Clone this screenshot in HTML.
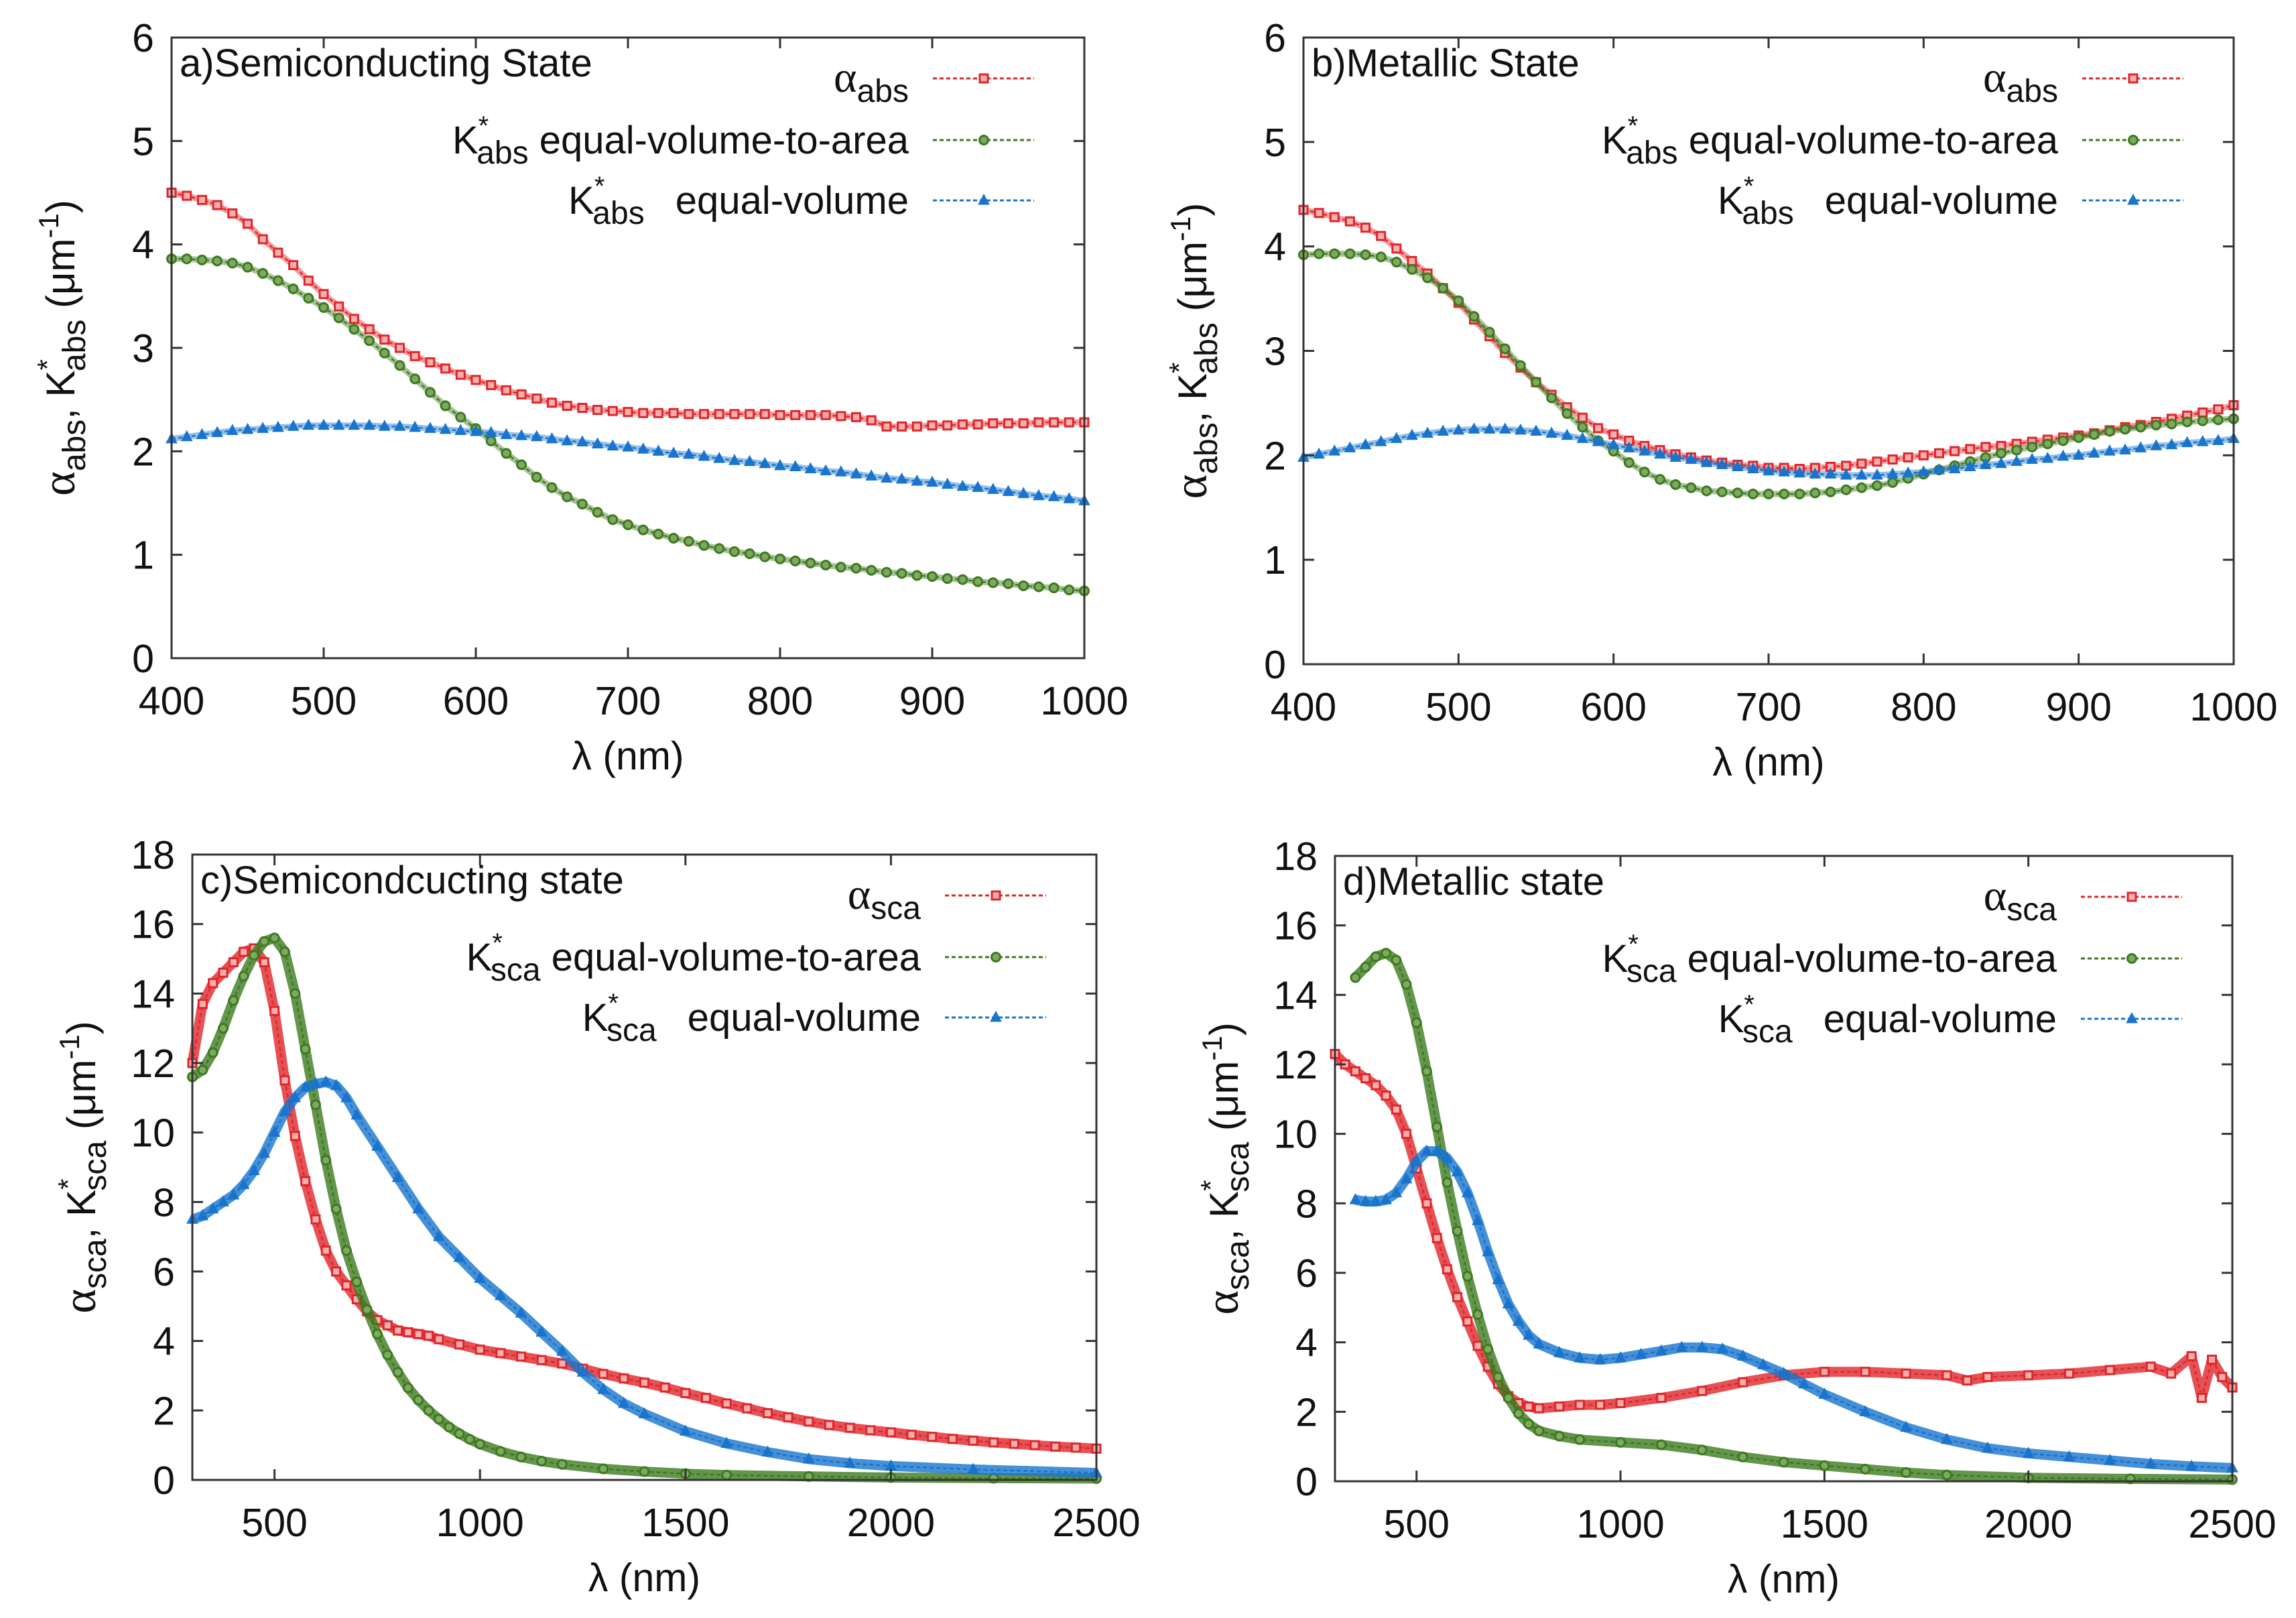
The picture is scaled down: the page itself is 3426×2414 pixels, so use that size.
<!DOCTYPE html>
<html><head><meta charset="utf-8"><style>
html,body{margin:0;padding:0;background:#fff;}
svg{display:block;font-family:"Liberation Sans",sans-serif;}
</style></head><body>
<svg id="fig" width="3426" height="2414" viewBox="0 0 3426 2414" xmlns="http://www.w3.org/2000/svg"></svg>
<script>
// ---- data ----
const absWl = [];
for (let w = 400; w <= 1000; w += 10) absWl.push(w);
const xTicksAbs = [400,500,600,700,800,900,1000];
const yTicksAbs = [0,1,2,3,4,5,6];
const xTicksSca = [500,1000,1500,2000,2500];
const yTicksSca = [0,2,4,6,8,10,12,14,16,18];

const aRed = [4.5,4.47,4.43,4.38,4.3,4.2,4.05,3.92,3.8,3.65,3.52,3.4,3.28,3.18,3.08,3.0,2.92,2.86,2.8,2.74,2.69,2.64,2.59,2.55,2.51,2.47,2.44,2.42,2.4,2.39,2.38,2.37,2.37,2.37,2.36,2.36,2.36,2.36,2.36,2.36,2.35,2.35,2.35,2.35,2.34,2.33,2.3,2.24,2.24,2.24,2.25,2.25,2.26,2.26,2.27,2.27,2.27,2.28,2.28,2.28,2.28];
const aGreen = [3.86,3.86,3.85,3.84,3.82,3.78,3.72,3.65,3.57,3.48,3.39,3.29,3.18,3.07,2.95,2.83,2.7,2.57,2.44,2.33,2.22,2.1,1.98,1.87,1.75,1.65,1.56,1.49,1.41,1.34,1.29,1.24,1.2,1.16,1.13,1.09,1.06,1.03,1.01,0.98,0.96,0.94,0.92,0.9,0.88,0.87,0.85,0.83,0.82,0.8,0.79,0.77,0.76,0.74,0.73,0.72,0.7,0.69,0.68,0.66,0.65];
const aBlue = [2.12,2.14,2.16,2.18,2.2,2.21,2.22,2.23,2.24,2.25,2.25,2.25,2.25,2.25,2.24,2.24,2.23,2.22,2.21,2.2,2.19,2.18,2.16,2.15,2.14,2.12,2.1,2.09,2.07,2.05,2.04,2.02,2.0,1.98,1.97,1.95,1.93,1.91,1.9,1.88,1.86,1.85,1.83,1.81,1.8,1.78,1.76,1.74,1.73,1.71,1.7,1.68,1.66,1.65,1.63,1.61,1.59,1.57,1.56,1.54,1.52];

const bRed = [4.35,4.32,4.28,4.24,4.18,4.1,3.98,3.86,3.74,3.6,3.46,3.3,3.14,2.98,2.84,2.7,2.58,2.46,2.36,2.26,2.2,2.14,2.09,2.05,2.01,1.98,1.95,1.93,1.91,1.9,1.88,1.88,1.87,1.88,1.89,1.9,1.92,1.94,1.96,1.98,2.0,2.02,2.04,2.06,2.08,2.09,2.11,2.13,2.15,2.17,2.19,2.21,2.24,2.27,2.29,2.32,2.35,2.38,2.41,2.44,2.48];
const bGreen = [3.92,3.93,3.93,3.93,3.92,3.9,3.85,3.78,3.7,3.6,3.48,3.33,3.18,3.02,2.86,2.7,2.55,2.4,2.27,2.14,2.04,1.93,1.84,1.77,1.72,1.69,1.66,1.65,1.64,1.63,1.63,1.63,1.63,1.64,1.65,1.67,1.69,1.71,1.74,1.78,1.82,1.86,1.9,1.94,1.98,2.02,2.05,2.08,2.11,2.14,2.17,2.2,2.23,2.25,2.27,2.29,2.3,2.32,2.33,2.34,2.35];
const bBlue = [1.98,2.01,2.04,2.07,2.1,2.13,2.16,2.19,2.21,2.23,2.24,2.25,2.25,2.25,2.24,2.23,2.21,2.19,2.16,2.13,2.1,2.07,2.04,2.01,1.98,1.96,1.93,1.91,1.89,1.87,1.85,1.84,1.83,1.82,1.82,1.81,1.81,1.81,1.82,1.83,1.84,1.86,1.87,1.89,1.91,1.92,1.94,1.96,1.97,1.99,2.0,2.02,2.04,2.05,2.07,2.09,2.1,2.12,2.13,2.14,2.16];

const cRedX = [300,325,350,375,400,425,450,475,500,525,550,575,600,625,650,675,700,725,750,775,800,825,850,875,900,950,1000,1050,1100,1150,1200,1250,1300,1350,1400,1450,1500,1550,1600,1650,1700,1750,1800,1850,1900,1950,2000,2050,2100,2150,2200,2250,2300,2350,2400,2450,2500];
const cRedY = [12.0,13.7,14.3,14.6,14.9,15.2,15.3,14.9,13.5,11.5,9.9,8.6,7.5,6.6,6.0,5.6,5.2,4.85,4.6,4.45,4.3,4.25,4.2,4.15,4.05,3.9,3.75,3.65,3.55,3.45,3.35,3.2,3.05,2.92,2.8,2.66,2.5,2.36,2.2,2.06,1.92,1.8,1.68,1.58,1.5,1.43,1.37,1.3,1.24,1.18,1.13,1.08,1.04,1.0,0.96,0.93,0.9];
const cGreenX = [300,325,350,375,400,425,450,475,500,525,550,575,600,625,650,675,700,725,750,775,800,825,850,875,900,925,950,975,1000,1050,1100,1150,1200,1300,1400,1500,1600,1800,2000,2250,2500];
const cGreenY = [11.6,11.8,12.3,13.0,13.8,14.5,15.1,15.5,15.6,15.2,14.0,12.4,10.8,9.2,7.8,6.6,5.7,4.9,4.2,3.6,3.1,2.65,2.3,2.0,1.75,1.52,1.33,1.17,1.03,0.82,0.66,0.54,0.45,0.32,0.24,0.18,0.14,0.1,0.07,0.05,0.04];
const cBlueX = [300,325,350,375,400,425,450,475,500,525,550,575,600,625,650,675,700,750,800,850,900,950,1000,1050,1100,1150,1200,1250,1300,1350,1400,1500,1600,1700,1800,1900,2000,2200,2500];
const cBlueY = [7.5,7.6,7.8,8.0,8.2,8.5,8.9,9.4,10.0,10.6,11.0,11.3,11.4,11.45,11.35,11.0,10.5,9.6,8.7,7.8,7.0,6.4,5.8,5.3,4.8,4.25,3.7,3.1,2.6,2.2,1.9,1.4,1.05,0.8,0.6,0.48,0.4,0.3,0.2];

const dRedX = [300,325,350,375,400,425,450,475,500,525,550,575,600,625,650,675,700,725,750,775,800,850,900,950,1000,1100,1200,1300,1400,1500,1600,1700,1800,1850,1900,2000,2100,2200,2300,2350,2400,2425,2450,2475,2500];
const dRedY = [12.3,12.0,11.8,11.6,11.4,11.1,10.7,10.0,9.0,8.0,7.0,6.1,5.3,4.6,3.9,3.3,2.8,2.45,2.25,2.15,2.1,2.15,2.2,2.2,2.25,2.4,2.6,2.85,3.05,3.15,3.15,3.1,3.05,2.9,3.0,3.05,3.1,3.2,3.3,3.1,3.6,2.4,3.5,3.0,2.7];
const dGreenX = [350,375,400,425,450,475,500,525,550,575,600,625,650,675,700,725,750,775,800,850,900,1000,1100,1200,1300,1400,1500,1600,1700,1800,2000,2250,2500];
const dGreenY = [14.5,14.8,15.1,15.2,15.0,14.3,13.2,11.8,10.2,8.6,7.2,5.9,4.8,3.8,3.0,2.4,1.95,1.65,1.45,1.3,1.2,1.12,1.05,0.9,0.7,0.55,0.45,0.35,0.25,0.18,0.1,0.07,0.05];
const dBlueX = [350,375,400,425,450,475,500,525,550,575,600,625,650,675,700,725,750,775,800,850,900,950,1000,1050,1100,1150,1200,1250,1300,1350,1400,1450,1500,1600,1700,1800,1900,2000,2100,2200,2300,2400,2500];
const dBlueY = [8.1,8.05,8.05,8.1,8.3,8.7,9.2,9.5,9.5,9.3,8.9,8.3,7.5,6.6,5.8,5.1,4.6,4.2,3.95,3.7,3.55,3.5,3.55,3.65,3.75,3.85,3.85,3.8,3.6,3.35,3.1,2.8,2.5,2.0,1.55,1.2,0.95,0.8,0.7,0.6,0.5,0.43,0.38];

// ---- rendering ----
const NS = "http://www.w3.org/2000/svg";
const svg = document.getElementById('fig');
function mk(tag, attrs, parent) {
  const e = document.createElementNS(NS, tag);
  for (const k in attrs) e.setAttribute(k, attrs[k]);
  (parent || svg).appendChild(e);
  return e;
}
const RED = '#e0262a', GREEN = '#3d7a1f', BLUE = '#1874cd';

function marker(g, kind, x, y) {
  let m;
  if (kind === 'sq') m = mk('rect', {x: x-6, y: y-6, width: 12, height: 12, fill: '#f6b0b0', stroke: RED, 'stroke-width': 3}, g);
  else if (kind === 'ci') m = mk('circle', {cx: x, cy: y, r: 6.5, fill: '#7fa860', stroke: GREEN, 'stroke-width': 3}, g);
  else m = mk('polygon', {points: `${x},${y-9} ${x-8},${y+6} ${x+8},${y+6}`, fill: BLUE, stroke: BLUE, 'stroke-width': 1}, g);
  return m;
}

function panel(cfg) {
  const g = mk('g', {});
  
  
  const {L, R, T, B, x0, x1, y0, y1} = cfg;
  const sx = v => L + (v - x0) / (x1 - x0) * (R - L);
  const sy = v => B - (v - y0) / (y1 - y0) * (B - T);
  cfg.series.forEach(s => {
    const sg = mk('g', {}, g);
    
    
    const pts = s.x.map((xv, i) => sx(xv).toFixed(1) + ',' + sy(s.y[i]).toFixed(1)).join(' ');
    const band = mk('polyline', {points: pts, fill: 'none', stroke: s.color, 'stroke-width': cfg.band, 'stroke-opacity': cfg.bandOp, 'stroke-linejoin': 'round'}, sg);
    
    
    const ln = mk('polyline', {points: pts, fill: 'none', stroke: s.color, 'stroke-width': 2.5, 'stroke-dasharray': '6,4'}, sg);
    
    
    s.x.forEach((xv, i) => {
      const m = marker(sg, s.kind, sx(xv), sy(s.y[i]));
      
      
    });
  });
  const fr = mk('rect', {x: L, y: T, width: R - L, height: B - T, fill: 'none', stroke: '#333', 'stroke-width': 3}, g);
  
  
  cfg.xt.forEach(v => {
    const X = sx(v);
    mk('line', {x1: X, y1: B, x2: X, y2: B - 16, stroke: '#333', 'stroke-width': 3}, g);
    mk('line', {x1: X, y1: T, x2: X, y2: T + 16, stroke: '#333', 'stroke-width': 3}, g);
    const t = mk('text', {x: X, y: B + 84, 'text-anchor': 'middle', 'font-size': 59, fill: '#111'}, g);
    t.textContent = v;
    
    
  });
  cfg.yt.forEach(v => {
    const Y = sy(v);
    mk('line', {x1: L, y1: Y, x2: L + 16, y2: Y, stroke: '#333', 'stroke-width': 3}, g);
    mk('line', {x1: R, y1: Y, x2: R - 16, y2: Y, stroke: '#333', 'stroke-width': 3}, g);
    const t = mk('text', {x: L - 26, y: Y + 21, 'text-anchor': 'end', 'font-size': 59, fill: '#111'}, g);
    t.textContent = v;
    
    
  });
  const tt = mk('text', {x: L + 12, y: T + 58, 'font-size': 58, fill: '#111'}, g);
  tt.textContent = cfg.title;
  
  
  const xl = mk('text', {x: (L + R) / 2, y: B + 166, 'text-anchor': 'middle', 'font-size': 59, fill: '#111'}, g);
  xl.textContent = 'λ (nm)';
  
  
  const yl = mk('text', {transform: `translate(${L - 145},${(T + B) / 2}) rotate(-90)`, 'text-anchor': 'middle', 'font-size': 60, fill: '#111', 'xml:space': 'preserve'}, g);
  
  
  yl.innerHTML = `<tspan font-family="Liberation Serif" font-size="70">α</tspan><tspan font-size="48" dy="16">${cfg.sub}</tspan><tspan dy="-16">, K</tspan><tspan font-size="42" dy="-26">*</tspan><tspan font-size="48" dx="-18" dy="42">${cfg.sub}</tspan><tspan dy="-16">  (μm</tspan><tspan font-size="42" dy="-24">-1</tspan><tspan dy="24">)</tspan>`;
  const rows = [
    `<tspan font-family="Liberation Serif" font-size="66">α</tspan><tspan font-size="48" dy="15">${cfg.sub}</tspan>`,
    `K<tspan font-size="40" dy="-28">*</tspan><tspan font-size="48" dx="-18" dy="43">${cfg.sub}</tspan><tspan dy="-15"> equal-volume-to-area</tspan>`,
    `K<tspan font-size="40" dy="-28">*</tspan><tspan font-size="48" dx="-18" dy="43">${cfg.sub}</tspan><tspan dy="-15" dx="30"> equal-volume</tspan>`
  ];
  const offs = [61, 153, 243];
  cfg.series.forEach((s, i) => {
    const lg = mk('g', {}, g);
    
    
    const Y = T + offs[i];
    const t = mk('text', {x: R - 262, y: Y + 20, 'text-anchor': 'end', 'font-size': 58, fill: '#111', 'xml:space': 'preserve'}, lg);
    t.innerHTML = rows[i];
    mk('line', {x1: R - 226, y1: Y, x2: R - 75, y2: Y, stroke: s.color, 'stroke-width': 3, 'stroke-dasharray': '6,4'}, lg);
    marker(lg, s.kind, R - 150, Y);
  });
}

panel({name: 'panel-a', title: 'a)Semiconducting State', sub: 'abs', band: 9, bandOp: 0.45, L: 256, R: 1618, T: 56, B: 982, x0: 400, x1: 1000, y0: 0, y1: 6, xt: xTicksAbs, yt: yTicksAbs,
  series: [{name: 'alpha-abs-series', x: absWl, y: aRed, color: RED, kind: 'sq'},
           {name: 'k-abs-volume-to-area-series', x: absWl, y: aGreen, color: GREEN, kind: 'ci'},
           {name: 'k-abs-volume-series', x: absWl, y: aBlue, color: BLUE, kind: 'tr'}]});
panel({name: 'panel-b', title: 'b)Metallic State', sub: 'abs', band: 9, bandOp: 0.45, L: 1945, R: 3333, T: 56, B: 991, x0: 400, x1: 1000, y0: 0, y1: 6, xt: xTicksAbs, yt: yTicksAbs,
  series: [{name: 'alpha-abs-series', x: absWl, y: bRed, color: RED, kind: 'sq'},
           {name: 'k-abs-volume-to-area-series', x: absWl, y: bGreen, color: GREEN, kind: 'ci'},
           {name: 'k-abs-volume-series', x: absWl, y: bBlue, color: BLUE, kind: 'tr'}]});
panel({name: 'panel-c', title: 'c)Semicondcucting state', sub: 'sca', band: 15, bandOp: 0.8, L: 287, R: 1636, T: 1275, B: 2208, x0: 300, x1: 2500, y0: 0, y1: 18, xt: xTicksSca, yt: yTicksSca,
  series: [{name: 'alpha-sca-series', x: cRedX, y: cRedY, color: RED, kind: 'sq'},
           {name: 'k-sca-volume-to-area-series', x: cGreenX, y: cGreenY, color: GREEN, kind: 'ci'},
           {name: 'k-sca-volume-series', x: cBlueX, y: cBlueY, color: BLUE, kind: 'tr'}]});
panel({name: 'panel-d', title: 'd)Metallic state', sub: 'sca', band: 15, bandOp: 0.8, L: 1992, R: 3331, T: 1277, B: 2210, x0: 300, x1: 2500, y0: 0, y1: 18, xt: xTicksSca, yt: yTicksSca,
  series: [{name: 'alpha-sca-series', x: dRedX, y: dRedY, color: RED, kind: 'sq'},
           {name: 'k-sca-volume-to-area-series', x: dGreenX, y: dGreenY, color: GREEN, kind: 'ci'},
           {name: 'k-sca-volume-series', x: dBlueX, y: dBlueY, color: BLUE, kind: 'tr'}]});
</script>
</body></html>
